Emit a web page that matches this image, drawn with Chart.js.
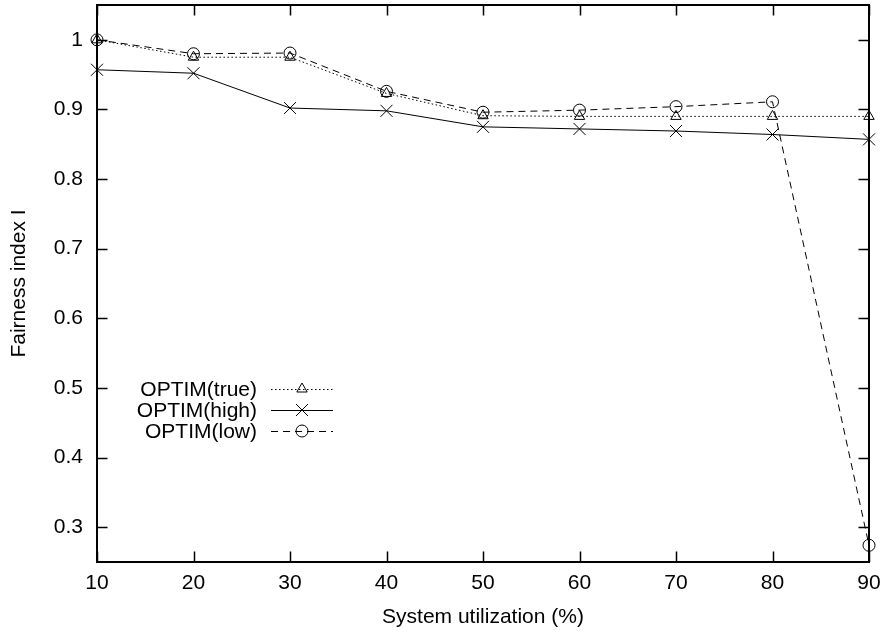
<!DOCTYPE html>
<html>
<head>
<meta charset="utf-8">
<title>Fairness index vs system utilization</title>
<script src="https://cdn.jsdelivr.net/npm/chart.js@4/dist/chart.umd.min.js"></script>
<style>
  html, body { margin: 0; padding: 0; background: #fff; }
  canvas { display: block; }
</style>
</head>
<body>
<canvas id="chart" width="883" height="631"></canvas>
<script>
const utilization = [10, 20, 30, 40, 50, 60, 70, 80, 90]
const optimTrue = [1.0, 0.975, 0.975, 0.923, 0.891, 0.890, 0.890, 0.890, 0.890]
const optimHigh = [0.957, 0.952, 0.902, 0.898, 0.875, 0.872, 0.869, 0.864, 0.857]
const optimLow = [1.0, 0.980, 0.981, 0.926, 0.896, 0.899, 0.904, 0.911, 0.274]
const xTicks = [10, 20, 30, 40, 50, 60, 70, 80, 90]
const yTicks = [0.3, 0.4, 0.5, 0.6, 0.7, 0.8, 0.9, 1]
const yTickLabels = ['0.3', '0.4', '0.5', '0.6', '0.7', '0.8', '0.9', '1']

const FONT = 'Liberation Sans, Arial, Helvetica, sans-serif'

const toPoints = (ys) => utilization.map((x, i) => ({ x, y: ys[i] }))

const series = (label, ys, pointStyle, dash, radius) => ({
  label,
  data: toPoints(ys),
  borderColor: '#000',
  borderWidth: 1,
  borderDash: dash,
  pointStyle,
  pointRadius: radius,
  pointHoverRadius: radius,
  pointBorderColor: '#000',
  pointBorderWidth: 1,
  pointBackgroundColor: 'rgba(0,0,0,0)',
  tension: 0,
  clip: false
})

// gnuplot-like frame: full border with inward, mirrored tick marks
const framePlugin = {
  id: 'frame',
  beforeDatasetsDraw(chart) {
    const { ctx, chartArea: a, scales } = chart
    const len = 10.5
    ctx.save()
    ctx.strokeStyle = '#000'
    ctx.lineWidth = 1.5
    ctx.beginPath()
    xTicks.forEach(v => {
      const px = Math.round(scales.x.getPixelForValue(v)) + 0.5
      ctx.moveTo(px, a.bottom); ctx.lineTo(px, a.bottom - len)
      ctx.moveTo(px, a.top); ctx.lineTo(px, a.top + len)
    })
    yTicks.forEach(v => {
      const py = Math.round(scales.y.getPixelForValue(v)) + 0.5
      ctx.moveTo(a.left, py); ctx.lineTo(a.left + len, py)
      ctx.moveTo(a.right, py); ctx.lineTo(a.right - len, py)
    })
    ctx.stroke()
    ctx.lineWidth = 2
    ctx.strokeRect(a.left, a.top, a.right - a.left, a.bottom - a.top)
    ctx.restore()
  }
}

// key drawn inside the plot: right-aligned label, then a line sample with its marker
const keyPlugin = {
  id: 'key',
  afterDatasetsDraw(chart) {
    const { ctx, chartArea: a } = chart
    const textRight = a.left + 160
    const lineStart = a.left + 174
    const lineEnd = a.left + 236
    const firstRow = 389
    const rowGap = 21
    ctx.save()
    ctx.font = '21px ' + FONT
    ctx.textAlign = 'right'
    ctx.textBaseline = 'middle'
    chart.data.datasets.forEach((ds, i) => {
      const y = firstRow + i * rowGap
      ctx.fillStyle = '#000'
      ctx.fillText(ds.label, textRight, y + 1)
      ctx.strokeStyle = '#000'
      ctx.lineWidth = ds.borderWidth
      ctx.setLineDash(ds.borderDash || [])
      ctx.beginPath()
      ctx.moveTo(lineStart, y + 0.5)
      ctx.lineTo(lineEnd, y + 0.5)
      ctx.stroke()
      ctx.setLineDash([])
      ctx.fillStyle = 'rgba(0,0,0,0)'
      Chart.helpers.drawPoint(ctx, {
        pointStyle: ds.pointStyle,
        radius: ds.pointRadius,
        borderWidth: 1
      }, (lineStart + lineEnd) / 2, y)
    })
    ctx.restore()
  }
}

const ctx = document.getElementById('chart').getContext('2d')
new Chart(ctx, {
  type: 'line',
  data: {
    datasets: [
      series('OPTIM(true)', optimTrue, 'triangle', [1.5, 2.5], 6),
      series('OPTIM(high)', optimHigh, 'crossRot', [], 8.5),
      series('OPTIM(low)', optimLow, 'circle', [7, 5], 6)
    ]
  },
  options: {
    responsive: false,
    animation: false,
    layout: { autoPadding: false, padding: { top: 5, right: 14, left: 0, bottom: 0 } },
    plugins: {
      legend: { display: false },
      tooltip: { enabled: false }
    },
    scales: {
      x: {
        type: 'linear',
        min: 10,
        max: 90,
        afterBuildTicks: (scale) => { scale.ticks = xTicks.map(value => ({ value })) },
        afterFit: (scale) => {
          scale.height = 69
          scale.paddingLeft = 0
          scale.paddingRight = 0
        },
        ticks: { color: '#000', font: { family: FONT, size: 21 }, padding: 9, maxRotation: 0 },
        grid: { display: false, drawTicks: false },
        border: { display: false },
        title: {
          display: true,
          text: 'System utilization (%)',
          color: '#000',
          font: { family: FONT, size: 21 },
          padding: { top: 0, bottom: 1.5 }
        }
      },
      y: {
        type: 'linear',
        min: 0.25,
        max: 1.05,
        afterBuildTicks: (scale) => { scale.ticks = yTicks.map(value => ({ value })) },
        afterFit: (scale) => {
          scale.width = 97
          scale.paddingTop = 0
          scale.paddingBottom = 0
        },
        ticks: {
          color: '#000',
          font: { family: FONT, size: 21 },
          padding: 14,
          callback: (value) => yTickLabels[yTicks.findIndex(t => Math.abs(t - value) < 1e-9)]
        },
        grid: { display: false, drawTicks: false },
        border: { display: false },
        title: {
          display: true,
          text: 'Fairness index I',
          color: '#000',
          font: { family: FONT, size: 21 },
          padding: { top: 7, bottom: 0 }
        }
      }
    }
  },
  plugins: [framePlugin, keyPlugin]
})
</script>
</body>
</html>
